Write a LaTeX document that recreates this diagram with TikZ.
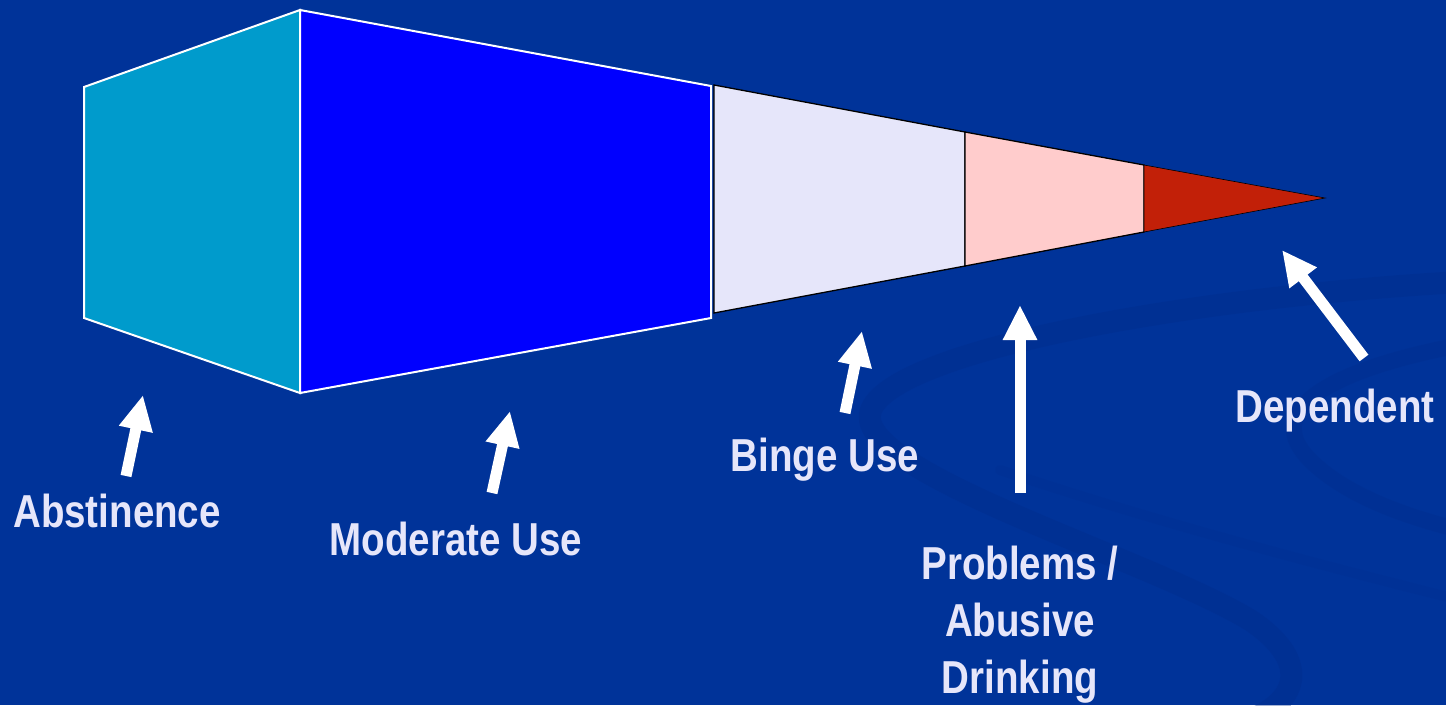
\documentclass[tikz,border=0pt]{standalone}
\usepackage{fontspec}
\setmainfont{Liberation Sans}
\usetikzlibrary{arrows.meta}
\definecolor{bgblue}{RGB}{0,51,153}
\definecolor{swirl}{RGB}{0,44,138}
\definecolor{abst}{RGB}{0,155,204}
\definecolor{moder}{RGB}{0,0,255}
\definecolor{binge}{RGB}{230,230,250}
\definecolor{probl}{RGB}{255,204,204}
\definecolor{depen}{RGB}{194,32,8}
\definecolor{labeltxt}{RGB}{230,230,250}
\newcommand{\lbltxt}[1]{\scalebox{1}[1.2]{#1}}
\begin{document}
\begin{tikzpicture}[x=1pt,y=-1pt,
  lbl/.style={text=labeltxt, font=\fontsize{38.5}{57}\selectfont\bfseries, inner sep=0pt, anchor=base, align=center},
  whiteface/.style={draw=white, line width=2pt, line join=miter},
  darkface/.style={draw=black, line width=1.3pt, line join=miter},
  pointer/.style={white, line width=11pt, -{Triangle[length=35pt,width=32pt]}},
  swirlband/.style={draw=swirl, line cap=round}
]
% background
\fill[bgblue] (0,0) rectangle (1446,705);
\useasboundingbox (0,0) rectangle (1446,705);
% faint background swirl
\draw[swirlband, line width=22pt, opacity=0.35] (1460,282) .. controls (1150,300) and (860,360) .. (870,420) .. controls (880,480) and (1150,560) .. (1250,620) .. controls (1310,660) and (1300,700) .. (1250,720);
\draw[swirlband, line width=16pt, opacity=0.3] (1460,345) .. controls (1330,370) and (1260,410) .. (1310,460) .. controls (1350,500) and (1420,520) .. (1460,530);
\draw[swirlband, line width=10pt, opacity=0.2] (1460,600) .. controls (1300,560) and (1150,520) .. (1000,470);

% shapes
\path[fill=abst, whiteface] (84,87) -- (300,10) -- (300,393) -- (84,318) -- cycle;
\path[fill=moder, whiteface] (300,10) -- (711,86) -- (711,318) -- (300,393) -- cycle;
\path[fill=binge, darkface] (714,85) -- (965,132) -- (965,266) -- (714,313) -- cycle;
\path[fill=probl, darkface] (965,132) -- (1144,165) -- (1144,232) -- (965,266) -- cycle;
\path[fill=depen, draw=black, line width=0.6pt] (1144,165) -- (1325,198) -- (1144,232) -- cycle;

% labels
\node[lbl] (abstinence) at (117,527) {\lbltxt{Abstinence}};
\node[lbl] (moderate) at (456,555) {\lbltxt{Moderate Use}};
\node[lbl] (bingeuse) at (825,471) {\lbltxt{Binge Use}};
\node[lbl] (problems) at (1020,693) {\lbltxt{Problems /}\\\lbltxt{Abusive}\\\lbltxt{Drinking}};
\node[lbl] (dependent) at (1335,422) {\lbltxt{Dependent}};

% arrow end points
\coordinate (a1) at (126,476); \coordinate (a2) at (143,395);
\coordinate (m1) at (492,493); \coordinate (m2) at (510,411);
\coordinate (b1) at (845,413); \coordinate (b2) at (862,331);
\coordinate (p1) at (1020,493); \coordinate (p2) at (1020,305);
\coordinate (d1) at (1364,358); \coordinate (d2) at (1282,250);

\draw[pointer] (a1) -- (a2);
\draw[pointer] (m1) -- (m2);
\draw[pointer] (b1) -- (b2);
\draw[pointer] (p1) -- (p2);
\draw[pointer] (d1) -- (d2);
\end{tikzpicture}
\end{document}
